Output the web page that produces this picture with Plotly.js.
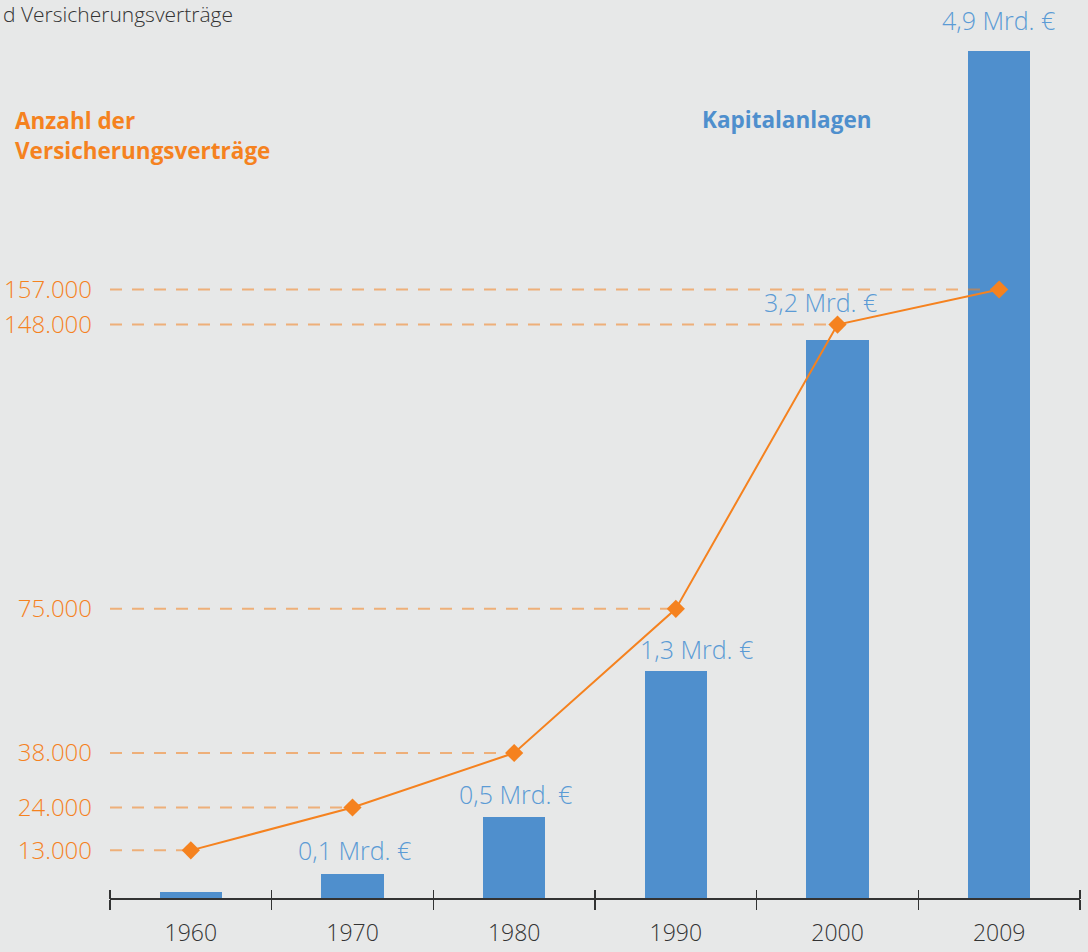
<!DOCTYPE html>
<html>
<head>
<meta charset="utf-8">
<script src="https://cdn.plot.ly/plotly-3.0.1.min.js"></script>
<style>html,body{margin:0;padding:0;background:#e7e8e8;}#chart{width:1088px;height:952px;}</style>
</head>
<body>
<div id="chart"></div>
<script>
// Data
const years = ["1960", "1970", "1980", "1990", "2000", "2009"];
const kapitalanlagen = [0.035, 0.14, 0.47, 1.31, 3.23, 4.9];          // Mrd. €
const kapitalLabels = ["", "0,1 Mrd. €", "0,5 Mrd. €", "1,3 Mrd. €", "3,2 Mrd. €", "4,9 Mrd. €"];
const vertraege = [13000, 24000, 38000, 75000, 148000, 157000];       // Anzahl
const labelShiftX = [0, 2, 1, 21, -17, -1];
const labelShiftY = [0, 24, 23, 22, 38, 31];

const ORANGE = '#f5821f';
const BLUE = '#4f8fcd';
const LABEL_BLUE = '#5b9bd5';
const FONT = '"Open Sans", "Noto Sans", sans-serif';

const traces = [
  {
    type: 'bar', x: years, y: kapitalanlagen, xaxis: 'x', yaxis: 'y',
    marker: {color: BLUE}, width: 0.385, hoverinfo: 'skip', showlegend: false
  },
  {
    type: 'scatter', mode: 'lines+markers', x: years, y: vertraege, xaxis: 'x', yaxis: 'y2',
    line: {color: ORANGE, width: 2}, marker: {symbol: 'diamond', size: 14, color: ORANGE},
    hoverinfo: 'skip', showlegend: false
  },
  {
    // invisible helper so the upper tick axis is drawn
    type: 'scatter', mode: 'markers', x: years, y: kapitalanlagen, xaxis: 'x2', yaxis: 'y',
    marker: {opacity: 0, size: 1}, hoverinfo: 'skip', showlegend: false
  }
];

const shapes = vertraege.map((v, i) => ({
  type: 'line', xref: 'x', yref: 'y2', x0: -0.5, x1: i, y0: v, y1: v,
  line: {color: ORANGE, width: 2, dash: '12px,10px'}, opacity: 0.55, layer: 'above'
}));

const annotations = [];
kapitalLabels.forEach((t, i) => {
  if (!t) return;
  annotations.push({
    xref: 'x', yref: 'y', x: i, y: kapitalanlagen[i], text: t,
    showarrow: false, xanchor: 'center', yanchor: 'middle',
    xshift: labelShiftX[i], yshift: labelShiftY[i],
    font: {family: FONT, size: 25, color: LABEL_BLUE, weight: 300}
  });
});

annotations.push(
  {xref: 'paper', yref: 'paper', x: -0.112, y: 1.0023, xanchor: 'left', yanchor: 'middle',
   text: 'd Versicherungsverträge', showarrow: false,
   font: {family: FONT, size: 21, color: '#333333', weight: 300}},
  {xref: 'paper', yref: 'paper', x: -0.1, y: 0.881, xanchor: 'left', yanchor: 'middle',
   text: 'Anzahl der', showarrow: false,
   font: {family: FONT, size: 22.5, color: ORANGE, weight: 700}},
  {xref: 'paper', yref: 'paper', x: -0.1, y: 0.847, xanchor: 'left', yanchor: 'middle',
   text: 'Versicherungsverträge', showarrow: false,
   font: {family: FONT, size: 22.5, color: ORANGE, weight: 700}},
  {xref: 'paper', yref: 'paper', x: 0.698, y: 0.883, xanchor: 'center', yanchor: 'middle',
   text: 'Kapitalanlagen', showarrow: false,
   font: {family: FONT, size: 22.5, color: BLUE, weight: 700}}
);

const layout = {
  width: 1088, height: 952,
  margin: {l: 110, r: 8, t: 16, b: 54},
  paper_bgcolor: '#e7e8e8', plot_bgcolor: '#e7e8e8',
  separators: ',.',
  font: {family: FONT, color: '#333333'},
  showlegend: false,
  bargap: 0,
  xaxis: {
    type: 'category', categoryarray: years, range: [-0.5, years.length - 0.5],
    showline: true, linecolor: '#333333', linewidth: 1.5,
    ticks: 'outside', ticklen: 10, tickcolor: '#333333', tickwidth: 1.2, tickson: 'boundaries',
    tickfont: {family: FONT, size: 23, color: '#333333', weight: 300},
    ticklabelstandoff: 14,
    showgrid: false, zeroline: false, fixedrange: true
  },
  xaxis2: {
    type: 'category', categoryarray: years, range: [-0.5, years.length - 0.5],
    overlaying: 'x', anchor: 'free', position: 0.0102, side: 'bottom',
    ticks: 'outside', ticklen: 9, tickcolor: '#333333', tickwidth: 1.2, tickson: 'boundaries',
    showticklabels: false, showline: false, showgrid: false, zeroline: false
  },
  yaxis: {
    range: [0, 5.101], visible: false, fixedrange: true
  },
  yaxis2: {
    overlaying: 'y', side: 'left', anchor: 'x', range: [770, 227214],
    tickvals: vertraege, tickformat: ',d',
    tickfont: {family: FONT, size: 24, color: ORANGE, weight: 300},
    ticks: '', showline: false, showgrid: false, zeroline: false,
    ticklabelstandoff: 17
  },
  shapes: shapes,
  annotations: annotations
};

Plotly.newPlot('chart', traces, layout, {displayModeBar: false, staticPlot: true});
</script>
</body>
</html>
